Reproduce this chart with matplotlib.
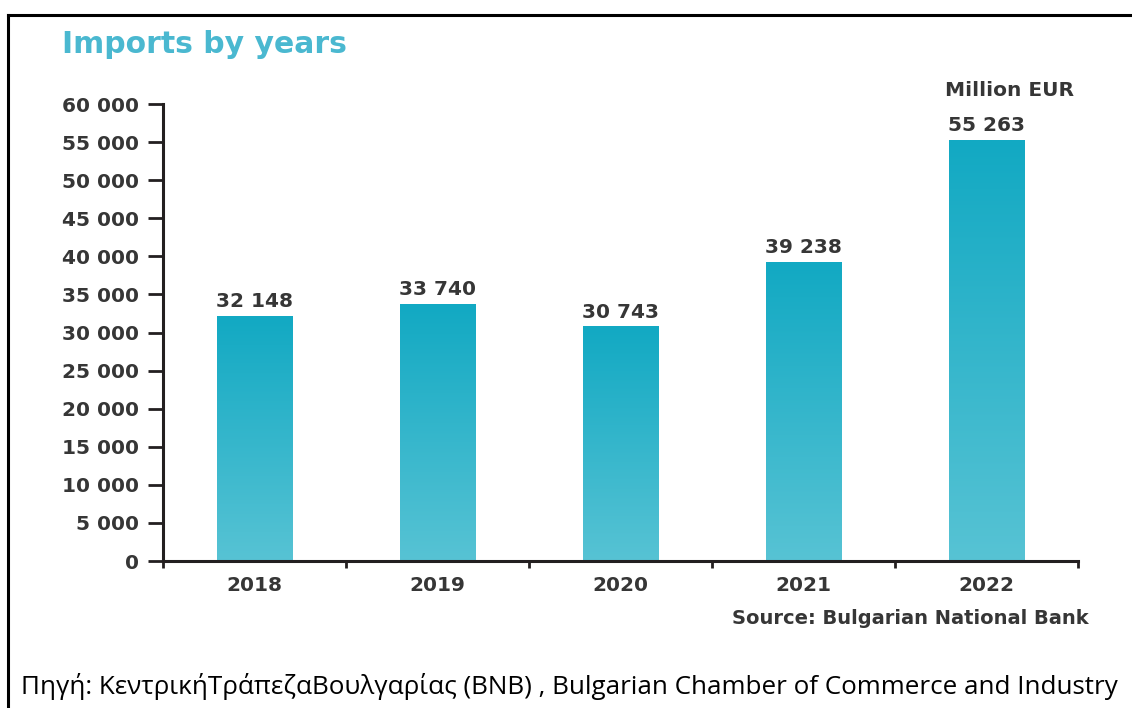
# Imports by years - bar chart with gradient bars

import matplotlib.pyplot as plt
import numpy as np
from matplotlib.colors import LinearSegmentedColormap
from matplotlib.lines import Line2D
from matplotlib.ticker import FuncFormatter

# Data
years = ['2018', '2019', '2020', '2021', '2022']
imports = [32148, 33740, 30743, 39238, 55263]
y_ticks = list(range(0, 60001, 5000))

def fmt(v, pos=None):
    return f'{int(v):,}'.replace(',', ' ')

dark = '#363636'
plt.rcParams['font.family'] = ['DejaVu Sans']

fig = plt.figure(figsize=(11.32, 7.08), dpi=100)
ax = fig.add_axes([0.144, 0.2076, 0.808, 0.6455])

x = np.arange(len(years))
bars = ax.bar(x, imports, width=0.41, color='none', edgecolor='none')

# vertical gradient inside each bar, darker at top
cmap = LinearSegmentedColormap.from_list('teal', ['#57c3d4', '#12a9c3'])
grad = np.linspace(0, 1, 256).reshape(-1, 1)
for b in bars:
    x0, w, h = b.get_x(), b.get_width(), b.get_height()
    ax.imshow(grad, extent=(x0, x0 + w, 0, h), origin='lower',
              cmap=cmap, vmin=0, vmax=1, aspect='auto', zorder=2)
    ax.text(x0 + w / 2, h + 700, fmt(h), ha='center', va='bottom', fontsize=14.5,
            fontweight='bold', color=dark, clip_on=False)

ax.set_xlim(-0.5, len(years) - 0.5)
ax.set_ylim(0, 60000)
ax.set_yticks(y_ticks)
ax.yaxis.set_major_formatter(FuncFormatter(fmt))
ax.set_xticks(x)
ax.set_xticklabels(years)
ax.set_xticks(np.arange(-0.5, len(years)), minor=True)

for s in ['top', 'right']:
    ax.spines[s].set_visible(False)
for s in ['left', 'bottom']:
    ax.spines[s].set_linewidth(2.2)
    ax.spines[s].set_color('#231f20')

ax.tick_params(axis='y', length=11, width=2, color='#231f20', labelsize=14.5,
               labelcolor=dark, pad=6)
ax.tick_params(axis='x', which='major', length=0, labelsize=14.5, labelcolor=dark, pad=11)
ax.tick_params(axis='x', which='minor', length=5, width=2, color='#231f20')
for lbl in ax.get_xticklabels() + ax.get_yticklabels():
    lbl.set_fontweight('bold')

# texts
fig.text(0.055, 0.937, 'Imports by years', fontsize=21.5, fontweight='bold',
         color='#4ab8d0', va='center')
ax.text(4.13, 61800, 'Million EUR', ha='center', va='center', fontsize=14.5,
        fontweight='bold', color=dark, clip_on=False)
fig.text(0.962, 0.127, 'Source: Bulgarian National Bank', ha='right', va='center',
         fontsize=14, fontweight='bold', color=dark)
fig.text(0.0185, 0.031, 'Πηγή: ΚεντρικήΤράπεζαΒουλγαρίας (BNB) , Bulgarian Chamber of Commerce and Industry',
         ha='left', va='center', fontsize=18.7, color='black', family=['Open Sans', 'DejaVu Sans'])

# outer frame (top and left edges visible)
fig.add_artist(Line2D([0.0075, 1.0], [0.979, 0.979], color='black', lw=2.2, transform=fig.transFigure))
fig.add_artist(Line2D([0.0075, 0.0075], [0.0, 0.979], color='black', lw=2.2, transform=fig.transFigure))

fig.savefig('out.png', dpi=100)
